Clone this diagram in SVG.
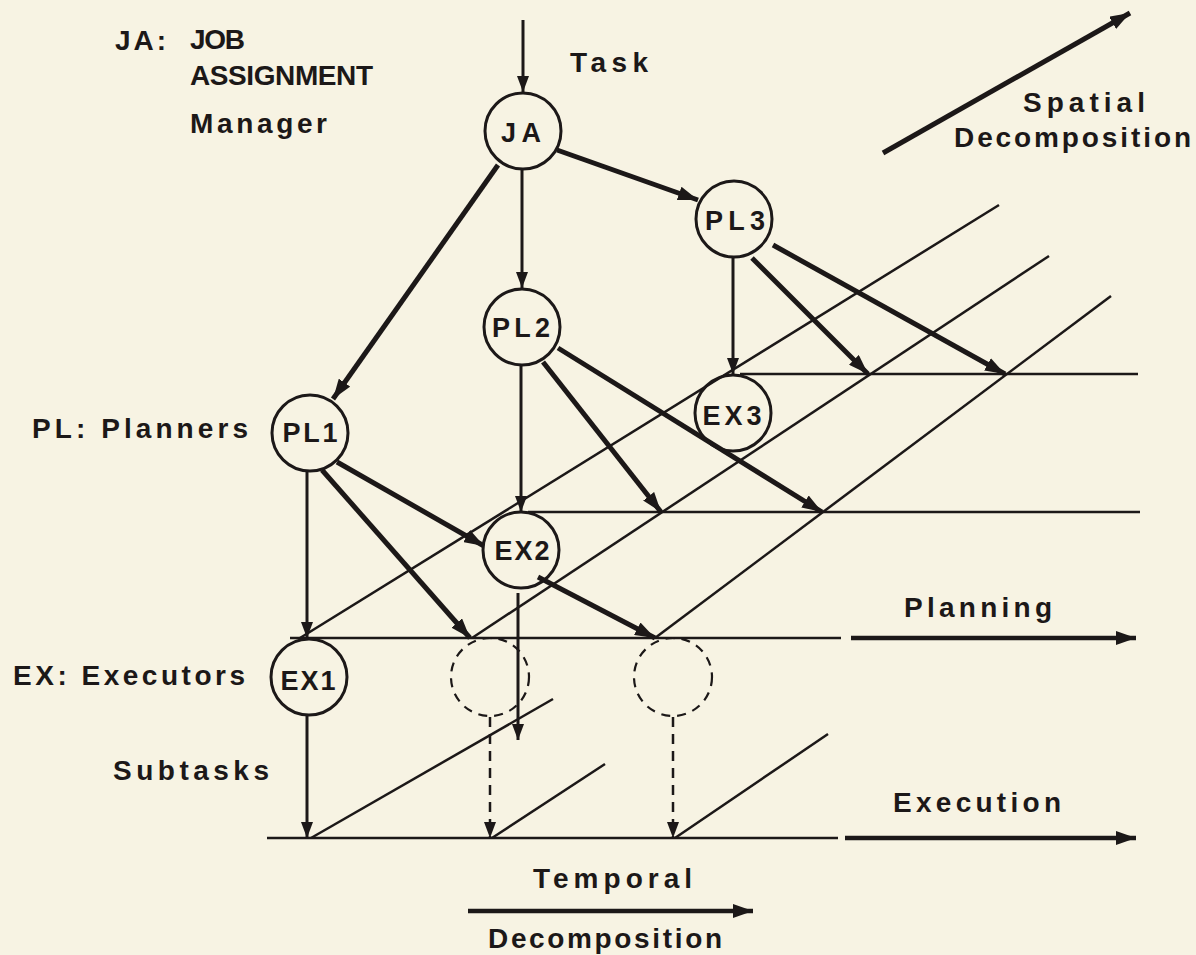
<svg xmlns="http://www.w3.org/2000/svg" width="1196" height="955" viewBox="0 0 1196 955">
<style>
  .bg { fill: #f7f3e3; }
  .node { fill: #f7f3e3; stroke: #1c1818; stroke-width: 3; }
  .ghost { fill: none; stroke: #1c1818; stroke-width: 2.2; stroke-dasharray: 9 7; }
  .nl { font-family: "Liberation Sans", Arial, Helvetica, sans-serif; font-weight: bold; font-size: 27px; fill: #1c1818; text-anchor: middle; }
  .lbl { font-family: "Liberation Sans", Arial, Helvetica, sans-serif; font-weight: bold; font-size: 28px; fill: #1c1818; }
  .thin { stroke: #1c1818; stroke-width: 2.5; fill: none; }
  .v { stroke: #1c1818; stroke-width: 3; fill: none; }
  .thick { stroke: #1c1818; stroke-width: 5; fill: none; }
  .axis { stroke: #1c1818; stroke-width: 4.5; fill: none; }
  .dash { stroke: #1c1818; stroke-width: 2.5; fill: none; stroke-dasharray: 10 7; }
</style>
<defs>
  <marker id="ah" viewBox="0 0 16 12" refX="16" refY="6" markerWidth="16" markerHeight="12" markerUnits="userSpaceOnUse" orient="auto">
    <path d="M0,0 L16,6 L0,12 z" fill="#1c1818"/>
  </marker>
  <marker id="ahb" viewBox="0 0 20 14" refX="20" refY="7" markerWidth="20" markerHeight="14" markerUnits="userSpaceOnUse" orient="auto">
    <path d="M0,0 L20,7 L0,14 z" fill="#1c1818"/>
  </marker>
</defs>
<rect class="bg" x="0" y="0" width="1196" height="955"/>

<g id="connectors">
  <!-- time / planning grid -->
  <line class="thin" x1="740" y1="374" x2="1138" y2="374"/>
  <line class="thin" x1="528" y1="512" x2="1140" y2="512"/>
  <line class="thin" x1="290" y1="638" x2="841" y2="638"/>
  <line class="axis" x1="851" y1="638" x2="1136" y2="638" marker-end="url(#ahb)"/>
  <line class="thin" x1="267" y1="838" x2="838" y2="838"/>
  <line class="axis" x1="845" y1="838" x2="1136" y2="838" marker-end="url(#ahb)"/>
  <line class="thin" x1="300" y1="638" x2="999" y2="205"/>
  <line class="thin" x1="472" y1="638" x2="1049" y2="256"/>
  <line class="thin" x1="655" y1="638" x2="1111" y2="296"/>
  <line class="thin" x1="311" y1="838" x2="553" y2="699"/>
  <line class="thin" x1="492" y1="838" x2="605" y2="764"/>
  <line class="thin" x1="675" y1="838" x2="828" y2="734"/>
  <!-- decomposition axes -->
  <line class="axis" x1="468" y1="911" x2="753" y2="911" marker-end="url(#ahb)"/>
  <line class="thick" stroke-width="6" x1="883" y1="153" x2="1130" y2="13" marker-end="url(#ahb)"/>
  <!-- task flow -->
  <line class="v" x1="523" y1="20" x2="523" y2="92" marker-end="url(#ah)"/>
  <line class="v" x1="522" y1="169" x2="522" y2="288" marker-end="url(#ah)"/>
  <line class="thick" x1="557" y1="150" x2="698" y2="200" marker-end="url(#ahb)"/>
  <line class="thick" x1="498" y1="165" x2="333" y2="399" marker-end="url(#ahb)"/>
  <line class="v" x1="307" y1="472" x2="307" y2="638" marker-end="url(#ah)"/>
  <line class="thick" x1="322" y1="470" x2="470" y2="638" marker-end="url(#ahb)"/>
  <line class="thick" x1="337" y1="462" x2="484" y2="546" marker-end="url(#ahb)"/>
  <line class="v" x1="521" y1="366" x2="521" y2="512" marker-end="url(#ah)"/>
  <line class="thick" x1="543" y1="362" x2="661" y2="512" marker-end="url(#ahb)"/>
  <line class="thick" x1="558" y1="348" x2="822" y2="512" marker-end="url(#ahb)"/>
  <line class="v" x1="733" y1="258" x2="733" y2="374" marker-end="url(#ah)"/>
  <line class="thick" x1="752" y1="258" x2="868" y2="374" marker-end="url(#ahb)"/>
  <line class="thick" x1="773" y1="245" x2="1005" y2="374" marker-end="url(#ahb)"/>
  <line class="v" x1="518" y1="593" x2="518" y2="740" marker-end="url(#ah)"/>
  <line class="thick" x1="538" y1="577" x2="655" y2="638" marker-end="url(#ahb)"/>
  <line class="v" x1="307" y1="716" x2="307" y2="838" marker-end="url(#ah)"/>
  <line class="dash" x1="490" y1="717" x2="490" y2="838" marker-end="url(#ah)"/>
  <line class="dash" x1="673" y1="717" x2="673" y2="838" marker-end="url(#ah)"/>
</g>

<g id="JA"><circle class="node" cx="523" cy="131" r="38"/><text class="nl" x="521" y="142" textLength="40">JA</text></g>
<g id="PL3"><circle class="node" cx="734" cy="219" r="38"/><text class="nl" x="735" y="230" textLength="60">PL3</text></g>
<g id="PL2"><circle class="node" cx="522" cy="327" r="38"/><text class="nl" x="521" y="337" textLength="58">PL2</text></g>
<g id="PL1"><circle class="node" cx="310" cy="433" r="38"/><text class="nl" x="310" y="442" textLength="55">PL1</text></g>
<g id="EX3"><circle class="node" cx="733" cy="413" r="38" fill="none" style="fill:none"/><text class="nl" x="732" y="425" textLength="59">EX3</text></g>
<g id="EX2"><circle class="node" cx="521" cy="550" r="38" style="fill:none"/><text class="nl" x="522" y="560" textLength="55">EX2</text></g>
<g id="EX1"><circle class="node" cx="309" cy="677" r="38"/><text class="nl" x="308" y="690" textLength="55">EX1</text></g>
<g id="EX-future-1"><circle class="ghost" cx="490" cy="677" r="39"/></g>
<g id="EX-future-2"><circle class="ghost" cx="673" cy="677" r="39"/></g>

<g id="labels">
  <text class="lbl" x="115" y="50" font-size="29" textLength="51">JA:</text>
  <text class="lbl" x="190" y="49" font-size="24" textLength="55">JOB</text>
  <text class="lbl" x="190" y="85" font-size="25" textLength="183">ASSIGNMENT</text>
  <text class="lbl" x="190" y="133" textLength="137">Manager</text>
  <text class="lbl" x="570" y="72" textLength="78">Task</text>
  <text class="lbl" x="1023" y="112" textLength="122">Spatial</text>
  <text class="lbl" x="954" y="147" textLength="237">Decomposition</text>
  <text class="lbl" x="32" y="438" textLength="216">PL: Planners</text>
  <text class="lbl" x="13" y="685" textLength="232">EX: Executors</text>
  <text class="lbl" x="113" y="780" textLength="156">Subtasks</text>
  <text class="lbl" x="904" y="617" textLength="148">Planning</text>
  <text class="lbl" x="893" y="812" textLength="168">Execution</text>
  <text class="lbl" x="533" y="888" textLength="159">Temporal</text>
  <text class="lbl" x="488" y="948" textLength="234">Decomposition</text>
</g>
</svg>
